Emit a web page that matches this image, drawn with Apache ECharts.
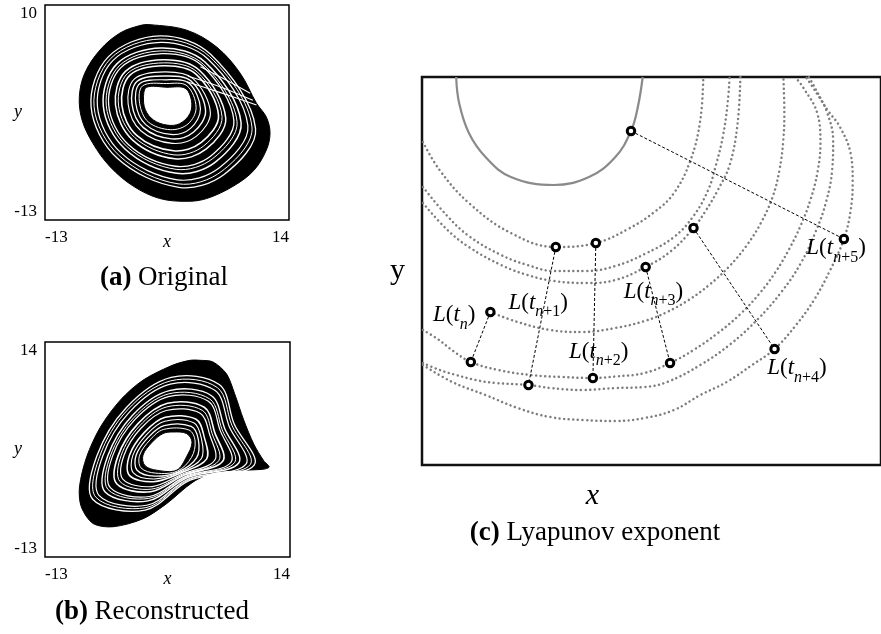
<!DOCTYPE html>
<html>
<head>
<meta charset="utf-8">
<script src="https://cdn.jsdelivr.net/npm/echarts@6/dist/echarts.min.js"></script>
<style>
  html, body { margin: 0; padding: 0; background: #fff; }
  #chart { width: 881px; height: 634px; }
</style>
</head>
<body>
<div id="chart"></div>
<script>
// ---------- (a) original attractor (x, y) ----------
const outerA = [[-1.4,7.9],[2.7,7.3],[6.0,5.5],[8.6,2.7],[10.4,-0.5],[11.5,-2.0],[11.9,-3.7],[11.5,-5.5],[10.1,-7.7],[7.8,-9.4],[4.9,-10.7],[2.7,-11.0],[-0.3,-10.7],[-3.2,-9.4],[-5.8,-7.3],[-7.7,-4.8],[-8.9,-2.3],[-9.2,0.2],[-8.6,2.7],[-6.9,5.2],[-4.7,7.0],[-2.5,7.8]];
const holeA = [[-1.75,1.2],[0.5,1.2],[2.5,1.1],[3.2,-0.2],[3.05,-1.6],[1.9,-2.7],[0.5,-2.85],[-1.0,-2.3],[-1.9,-1.2],[-2.1,0.2]];
// white gaps between the strands of the band
const gapsA = [
  [[0.44,1.6],[2.71,1.36],[3.72,-0.97],[2.82,-2.73],[0.87,-3.34],[-1.57,-2.51],[-2.53,-0.53],[-2.2,1.35]],
  [[0.4,2.0],[2.9,1.65],[4.2,-1.1],[3.1,-3.2],[0.9,-3.85],[-1.85,-2.8],[-2.95,-0.55],[-2.5,1.6]],
  [[0.32,2.41],[3.13,1.89],[4.77,-1.32],[3.45,-3.58],[1.02,-4.32],[-2.11,-3.12],[-3.38,-0.59],[-2.8,1.84]],
  [[0.25,2.85],[3.35,2.15],[5.3,-1.5],[3.8,-4.0],[1.1,-4.8],[-2.4,-3.45],[-3.8,-0.6],[-3.1,2.1]],
  [[0.15,3.5],[3.7,2.6],[6.2,-1.8],[4.3,-4.7],[1.2,-5.6],[-2.85,-3.95],[-4.5,-0.7],[-3.6,2.5]],
  [[0.11,3.81],[3.87,2.82],[6.59,-1.93],[4.57,-5.07],[1.27,-6.03],[-3.06,-4.19],[-4.87,-0.7],[-3.85,2.7]],
  [[0.05,4.15],[4.05,3.05],[7.0,-2.1],[4.85,-5.4],[1.35,-6.45],[-3.3,-4.45],[-5.2,-0.7],[-4.1,2.9]],
  [[-0.05,4.8],[4.4,3.5],[7.9,-2.35],[5.35,-6.15],[1.45,-7.25],[-3.75,-4.95],[-5.95,-0.75],[-4.6,3.3]],
  [[-0.08,5.09],[4.53,3.65],[8.25,-2.48],[5.57,-6.42],[1.5,-7.58],[-3.91,-5.16],[-6.22,-0.79],[-4.8,3.48]],
  [[-0.15,5.4],[4.7,3.9],[8.7,-2.6],[5.85,-6.8],[1.55,-8.0],[-4.15,-5.4],[-6.55,-0.8],[-5.05,3.7]],
  [[-0.2,6.0],[5.0,4.25],[9.45,-2.9],[6.3,-7.4],[1.65,-8.7],[-4.55,-5.85],[-7.2,-0.85],[-5.5,4.05]],
  [[-0.27,6.36],[5.2,4.49],[9.9,-3.03],[6.58,-7.77],[1.72,-9.13],[-4.77,-6.13],[-7.57,-0.89],[-5.75,4.26]],
  [[-0.3,6.7],[5.35,4.7],[10.3,-3.2],[6.85,-8.1],[1.8,-9.5],[-5.0,-6.4],[-7.9,-0.9],[-6.0,4.45]]
];
const gapWidthsA = [1.0, 1.2, 1.4, 1.1, 1.6, 1.0, 1.5, 1.3, 1.0, 1.5, 1.2, 1.0, 1.3];
const foldA = [
  [[2.7,1.8],[6.5,0.6],[10.4,-0.7]],
  [[2.8,2.4],[6.5,1.2],[10.0,-0.2]],
  [[4.2,3.4],[7.0,2.0],[9.7,0.55]]
];

// ---------- (b) reconstructed attractor (x, y) ----------
const outerB = [[4.1,11.7],[5.5,11.5],[7.0,10.0],[7.9,7.5],[8.9,4.2],[10.0,1.2],[11.1,-0.9],[11.7,-1.7],[10.9,-2.0],[5.9,-2.3],[3.3,-3.6],[0.4,-6.3],[-2.2,-8.2],[-5.5,-9.2],[-7.7,-8.8],[-9.0,-6.7],[-9.2,-4.2],[-8.4,-0.4],[-6.9,3.3],[-4.7,6.7],[-2.2,9.2],[1.1,11.1],[3.0,11.7]];
const holeB = [[0.0,2.5],[1.1,2.7],[2.6,2.5],[3.2,1.4],[2.6,-0.4],[1.5,-2.1],[-0.7,-2.1],[-2.0,-1.5],[-2.2,-0.2],[-1.2,1.4]];
const gapsB = [
  [[0.07,3.02],[2.86,2.95],[3.54,1.57],[3.15,-0.48],[1.61,-2.19],[-0.79,-2.47],[-2.42,-1.81],[-2.57,-0.21],[-1.41,1.72]],
  [[0.13,3.5],[3.1,3.4],[3.9,1.75],[3.7,-0.55],[1.7,-2.3],[-0.9,-2.85],[-2.85,-2.1],[-2.95,-0.2],[-1.6,2.05]],
  [[0.2,4.05],[3.39,3.85],[4.23,1.9],[4.24,-0.63],[1.82,-2.37],[-0.97,-3.2],[-3.26,-2.44],[-3.32,-0.24],[-1.83,2.35]],
  [[0.25,4.55],[3.65,4.3],[4.55,2.05],[4.8,-0.7],[1.95,-2.45],[-1.05,-3.55],[-3.7,-2.75],[-3.7,-0.25],[-2.05,2.65]],
  [[0.35,5.4],[4.1,5.05],[5.15,2.35],[5.7,-0.85],[2.1,-2.6],[-1.2,-4.15],[-4.4,-3.25],[-4.3,-0.25],[-2.4,3.2]],
  [[0.43,5.85],[4.32,5.43],[5.42,2.49],[6.15,-0.91],[2.2,-2.69],[-1.29,-4.48],[-4.73,-3.53],[-4.62,-0.28],[-2.57,3.47]],
  [[0.5,6.3],[4.55,5.8],[5.7,2.65],[6.6,-0.95],[2.3,-2.75],[-1.35,-4.8],[-5.1,-3.8],[-4.95,-0.3],[-2.75,3.75]],
  [[0.6,7.15],[5.0,6.55],[6.3,2.9],[7.5,-1.1],[2.45,-2.9],[-1.5,-5.4],[-5.8,-4.3],[-5.55,-0.3],[-3.1,4.25]],
  [[0.64,7.49],[5.15,6.85],[6.51,3.02],[7.88,-1.15],[2.54,-2.97],[-1.57,-5.64],[-6.06,-4.52],[-5.8,-0.32],[-3.23,4.47]],
  [[0.7,7.9],[5.35,7.25],[6.8,3.15],[8.35,-1.2],[2.65,-3.05],[-1.65,-5.95],[-6.4,-4.8],[-6.1,-0.35],[-3.4,4.75]],
  [[0.8,8.7],[5.75,7.9],[7.3,3.4],[9.15,-1.35],[2.8,-3.2],[-1.8,-6.5],[-7.05,-5.25],[-6.65,-0.35],[-3.7,5.2]],
  [[0.85,9.12],[5.99,8.28],[7.59,3.56],[9.61,-1.4],[2.89,-3.26],[-1.86,-6.8],[-7.39,-5.5],[-6.97,-0.35],[-3.9,5.48]],
  [[0.9,9.55],[6.2,8.65],[7.85,3.7],[10.05,-1.45],[3.0,-3.35],[-1.95,-7.1],[-7.75,-5.75],[-7.3,-0.35],[-4.05,5.75]]
];
const gapWidthsB = [1.0, 1.3, 1.1, 1.5, 1.2, 1.0, 1.6, 1.2, 1.0, 1.4, 1.2, 1.0, 1.3];

// axis extremes shown as tick labels
const ticksAx = [-13, 14];
const ticksAy = [-13, 10];
const ticksBx = [-13, 14];
const ticksBy = [-13, 14];

// ---------- (c) Lyapunov exponent sketch ----------
const arcSolid = [[3.5,38.8],[3.8,36.2],[4.8,33.2],[6.5,30.8],[9.1,28.8],[13.5,28.0],[17.1,28.8],[19.8,30.8],[21.4,33.4],[22.1,35.8],[22.6,38.8]];
const arcA = [[0.1,32.3],[1.8,29.5],[4.8,26.2],[9.1,23.2],[13.7,21.8],[17.8,22.2],[21.1,23.6],[23.8,25.3],[25.8,27.2],[27.5,30.5],[28.5,34.5],[28.8,38.8]];
const arcB = [[0.1,27.8],[2.5,25.0],[4.8,22.9],[8.1,21.0],[10.8,20.0],[13.5,19.4],[16.8,19.4],[19.8,19.9],[22.8,21.1],[25.8,22.8],[27.8,24.9],[29.3,27.5],[30.1,30.0],[30.8,32.8],[31.3,36.2],[31.5,38.8]];
const arcC = [[0.1,26.2],[2.5,23.6],[4.8,21.8],[8.1,20.0],[10.8,19.0],[13.5,18.4],[16.8,18.2],[19.8,18.5],[22.9,19.8],[25.5,21.4],[27.8,23.7],[29.1,25.5],[30.3,27.5],[31.5,30.0],[32.3,34.0],[32.6,38.8]];
const arcD = [[7.0,15.3],[9.8,14.3],[13.1,13.5],[16.5,13.3],[19.8,13.7],[22.8,14.4],[25.1,15.3],[27.3,16.5],[29.4,18.0],[31.4,19.8],[33.2,21.9],[34.7,24.2],[35.9,26.8],[36.6,29.5],[37.0,32.5],[37.1,35.5],[37.0,38.8]];
const arcE = [[0.1,13.5],[1.6,12.6],[3.2,11.4],[5.0,10.3],[7.8,9.5],[11.1,9.0],[14.3,8.8],[17.5,8.7],[19.8,8.85],[22.8,9.2],[25.4,10.2],[27.8,11.5],[30.3,13.2],[32.6,15.1],[34.6,17.2],[36.2,19.3],[37.6,21.6],[38.8,24.0],[39.8,26.6],[40.5,29.3],[40.8,32.2],[40.5,35.1],[39.0,37.8],[38.2,38.8]];
const arcF = [[0.1,10.2],[1.8,9.5],[3.5,9.0],[5.5,8.5],[7.5,8.2],[10.9,8.0],[13.1,7.7],[16.5,7.5],[19.8,7.7],[22.8,7.8],[25.1,8.3],[28.5,10.0],[31.6,12.1],[34.4,14.6],[36.8,17.3],[38.8,20.2],[40.3,23.3],[41.4,26.4],[42.0,29.5],[42.1,32.4],[41.5,35.2],[40.3,37.6],[39.6,38.8]];
const arcG = [[0.1,10.0],[3.1,8.3],[6.5,7.0],[9.8,5.7],[13.1,4.8],[16.5,4.5],[19.8,4.4],[22.8,4.7],[25.8,5.5],[28.5,7.0],[31.2,8.3],[33.8,10.0],[36.1,11.6],[38.3,14.0],[40.2,16.6],[41.8,19.5],[43.2,22.6],[43.9,25.5],[44.1,28.4],[43.9,31.1],[42.8,33.8],[41.6,35.4],[40.0,37.8],[39.3,38.8]];
const dottedArcs = [arcA, arcB, arcC, arcD, arcE, arcF, arcG];

const pointsFrom = [[7.0,15.3],[13.7,21.8],[17.8,22.2],[22.9,19.8],[27.8,23.7],[21.4,33.4]];
const pointsTo   = [[5.0,10.3],[10.9,8.0],[17.5,8.7],[25.4,10.2],[36.1,11.6],[43.2,22.6]];
const labelAt    = [[3.3,15.0],[11.9,16.25],[18.1,11.35],[23.7,17.35],[38.4,9.67],[42.4,21.7]];
const labelSubs  = [['n',''],['n','+1'],['n','+2'],['n','+3'],['n','+4'],['n','+5']];

// ---------- helpers ----------
const SERIF = 'Liberation Serif';

function shapeSeries(loops, axis, styleOf, z, closed, smooth) {
  return {
    type: 'custom', xAxisIndex: axis, yAxisIndex: axis, z: z, silent: true,
    data: loops.map(l => l[0]),
    renderItem: function (params, api) {
      const pts = loops[params.dataIndex].map(p => api.coord(p));
      return {
        type: closed ? 'polygon' : 'polyline',
        shape: { points: pts, smooth: smooth },
        style: styleOf(params.dataIndex)
      };
    }
  };
}

function attractorAxes(idx, xr, yr, xt, yt) {
  const lab = { fontFamily: SERIF, fontSize: 17, color: '#000' };
  return {
    x: {
      gridIndex: idx, type: 'value', min: xr[0], max: xr[1],
      axisLine: { show: false }, axisTick: { show: false }, splitLine: { show: false },
      axisLabel: Object.assign({ customValues: xt, margin: 9, alignMinLabel: 'left', alignMaxLabel: 'right' }, lab),
      name: 'x', nameLocation: 'middle', nameGap: 13, nameMoveOverlap: false,
      nameTextStyle: { fontFamily: SERIF, fontStyle: 'italic', fontSize: 18, color: '#000' }
    },
    y: {
      gridIndex: idx, type: 'value', min: yr[0], max: yr[1],
      axisLine: { show: false }, axisTick: { show: false }, splitLine: { show: false },
      axisLabel: Object.assign({ customValues: yt, margin: 8, verticalAlignMinLabel: 'bottom', verticalAlignMaxLabel: 'top' }, lab),
      name: 'y', nameLocation: 'middle', nameRotate: 0, nameGap: 23, nameMoveOverlap: false,
      nameTextStyle: { fontFamily: SERIF, fontStyle: 'italic', fontSize: 18, color: '#000' }
    }
  };
}

const axA = attractorAxes(0, [-13, 14], [-13, 10], ticksAx, ticksAy);
const axB = attractorAxes(1, [-13, 14], [-13, 14], ticksBx, ticksBy);

const series = [];
// panel (a)
series.push(shapeSeries([outerA], 0, () => ({ fill: '#000', stroke: '#000', lineWidth: 1 }), 2, true, 0.35));
series.push(shapeSeries(gapsA, 0, i => ({ fill: 'none', stroke: '#fff', lineWidth: gapWidthsA[i] }), 3, true, 0.35));
series.push(shapeSeries(foldA, 0, () => ({ fill: 'none', stroke: '#fff', lineWidth: 1.1 }), 3, false, 0.3));
series.push(shapeSeries([holeA], 0, () => ({ fill: '#fff', stroke: '#000', lineWidth: 1 }), 4, true, 0.35));
// panel (b)
series.push(shapeSeries([outerB], 1, () => ({ fill: '#000', stroke: '#000', lineWidth: 1 }), 2, true, 0.3));
series.push(shapeSeries(gapsB, 1, i => ({ fill: 'none', stroke: '#fff', lineWidth: gapWidthsB[i] }), 3, true, 0.35));
series.push(shapeSeries([holeB], 1, () => ({ fill: '#fff', stroke: '#000', lineWidth: 1 }), 4, true, 0.35));

// panel (c): trajectory arcs
series.push({
  type: 'line', xAxisIndex: 2, yAxisIndex: 2, data: arcSolid, smooth: 0.4, showSymbol: false, silent: true, z: 2,
  lineStyle: { color: '#8a8a8a', width: 2.2 }
});
dottedArcs.forEach(arc => series.push({
  type: 'line', xAxisIndex: 2, yAxisIndex: 2, data: arc, smooth: 0.4, showSymbol: false, silent: true, z: 2,
  lineStyle: { color: '#7d7d7d', width: 2.5, type: [0.01, 4.6], cap: 'round' }
}));
// connectors between paired points
pointsFrom.forEach((p, i) => series.push({
  type: 'line', xAxisIndex: 2, yAxisIndex: 2, data: [p, pointsTo[i]], showSymbol: false, silent: true, z: 3,
  lineStyle: { color: '#000', width: 1, type: [3, 2] }
}));
// hollow point markers
series.push({
  type: 'scatter', xAxisIndex: 2, yAxisIndex: 2, data: pointsFrom.concat(pointsTo), z: 5, silent: true,
  symbol: 'circle', symbolSize: 7.5,
  itemStyle: { color: '#fff', borderColor: '#000', borderWidth: 3, opacity: 1 }
});
// L(t) labels, placed through the axis scales
const richL = {
  i:  { fontFamily: SERIF, fontStyle: 'italic', fontSize: 23, lineHeight: 32, fill: '#000' },
  r:  { fontFamily: SERIF, fontSize: 23, lineHeight: 32, fill: '#000' },
  si: { fontFamily: SERIF, fontStyle: 'italic', fontSize: 16, lineHeight: 16, padding: [19, 0, 0, 0], fill: '#000' },
  sr: { fontFamily: SERIF, fontSize: 16, lineHeight: 16, padding: [19, 0, 0, 0], fill: '#000' }
};
series.push({
  type: 'custom', xAxisIndex: 2, yAxisIndex: 2, z: 6, silent: true,
  data: labelAt,
  renderItem: function (params, api) {
    const s = labelSubs[params.dataIndex];
    const pt = api.coord([api.value(0), api.value(1)]);
    return {
      type: 'text', x: pt[0], y: pt[1],
      style: {
        text: '{i|L}{r|(}{i|t}{si|' + s[0] + '}' + (s[1] ? '{sr|' + s[1] + '}' : '') + '{r|)}',
        rich: richL, fill: '#000', fontFamily: SERIF, fontSize: 23,
        align: 'center', verticalAlign: 'middle'
      }
    };
  }
});

const captionRich = {
  b: { fontFamily: SERIF, fontWeight: 'bold', fontSize: 27, fill: '#000' },
  r: { fontFamily: SERIF, fontSize: 27, fill: '#000' }
};

const option = {
  animation: false,
  backgroundColor: '#fff',
  textStyle: { fontFamily: SERIF },
  grid: [
    { left: 45, top: 5, width: 244, height: 215, show: true, borderColor: '#000', borderWidth: 1.5, backgroundColor: 'rgba(0,0,0,0)' },
    { left: 45, top: 342, width: 245, height: 215, show: true, borderColor: '#000', borderWidth: 1.5, backgroundColor: 'rgba(0,0,0,0)' },
    { left: 422, top: 77, width: 470, height: 388, show: true, borderColor: '#111', borderWidth: 2.5, backgroundColor: 'rgba(0,0,0,0)' }
  ],
  xAxis: [
    axA.x, axB.x,
    {
      gridIndex: 2, type: 'value', min: 0, max: 47,
      axisLine: { show: false }, axisTick: { show: false }, axisLabel: { show: false }, splitLine: { show: false },
      name: 'x', nameLocation: 'middle', nameGap: 16, nameMoveOverlap: false,
      nameTextStyle: { fontFamily: SERIF, fontStyle: 'italic', fontSize: 30, color: '#000', padding: [0, 118, 0, 0] }
    }
  ],
  yAxis: [
    axA.y, axB.y,
    {
      gridIndex: 2, type: 'value', min: 0, max: 38.8,
      axisLine: { show: false }, axisTick: { show: false }, axisLabel: { show: false }, splitLine: { show: false },
      name: 'y', nameLocation: 'middle', nameRotate: 0, nameGap: 17, nameMoveOverlap: false,
      nameTextStyle: { fontFamily: SERIF, fontSize: 30, color: '#000' }
    }
  ],
  graphic: [
    { type: 'text', x: 164, y: 278, style: { text: '{b|(a)}  {r|Original}', rich: captionRich, align: 'center', verticalAlign: 'middle' } },
    { type: 'text', x: 152, y: 612, style: { text: '{b|(b)}  {r|Reconstructed}', rich: captionRich, align: 'center', verticalAlign: 'middle' } },
    { type: 'text', x: 595, y: 533, style: { text: '{b|(c)}  {r|Lyapunov exponent}', rich: captionRich, align: 'center', verticalAlign: 'middle' } }
  ],
  series: series
};

const chart = echarts.init(document.getElementById('chart'), null, { renderer: 'canvas' });
chart.setOption(option);
</script>
</body>
</html>
